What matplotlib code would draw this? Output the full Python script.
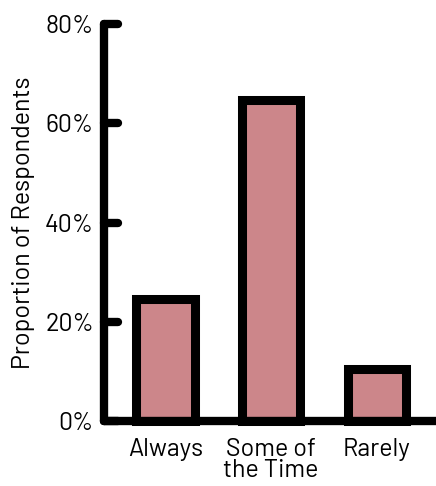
import matplotlib.pyplot as plt
from matplotlib.ticker import PercentFormatter
from matplotlib.markers import MarkerStyle, TICKRIGHT

# datos del grafico
categorias = ['Always', 'Some of\nthe Time', 'Rarely']
valores = [24.6, 64.7, 10.5]
y_ticks = [0, 20, 40, 60, 80]

plt.rcParams['font.family'] = ['Barlow', 'DejaVu Sans']

fig = plt.figure(figsize=(4.36, 4.86), dpi=100)
ax = fig.add_axes([0.2374, 0.1337, 0.7626, 0.8169])

ax.bar(range(len(categorias)), valores, width=0.55, color='#cc868a',
       edgecolor='black', linewidth=6.5, joinstyle='miter', clip_on=False)

ax.set_xlim(-0.587, 2.56)
ax.set_ylim(0, 80)
ax.set_yticks(y_ticks)
ax.yaxis.set_major_formatter(PercentFormatter(decimals=0))
ax.set_xticks(range(len(categorias)))
ax.set_xticklabels(categorias, linespacing=0.92)

for lado in ['top', 'right']:
    ax.spines[lado].set_visible(False)
for lado in ['left', 'bottom']:
    ax.spines[lado].set_linewidth(6)
    ax.spines[lado].set_capstyle('round')

ax.tick_params(axis='y', direction='in', length=10, width=6, pad=7,
               labelsize=18)
ax.tick_params(axis='x', length=0, pad=12, labelsize=18)
for t in ax.yaxis.get_major_ticks():
    t.tick1line.set_marker(MarkerStyle(TICKRIGHT, capstyle='round'))
ax.set_ylabel('Proportion of Respondents', fontsize=18, labelpad=7)

fig.savefig('out.png', dpi=100)
